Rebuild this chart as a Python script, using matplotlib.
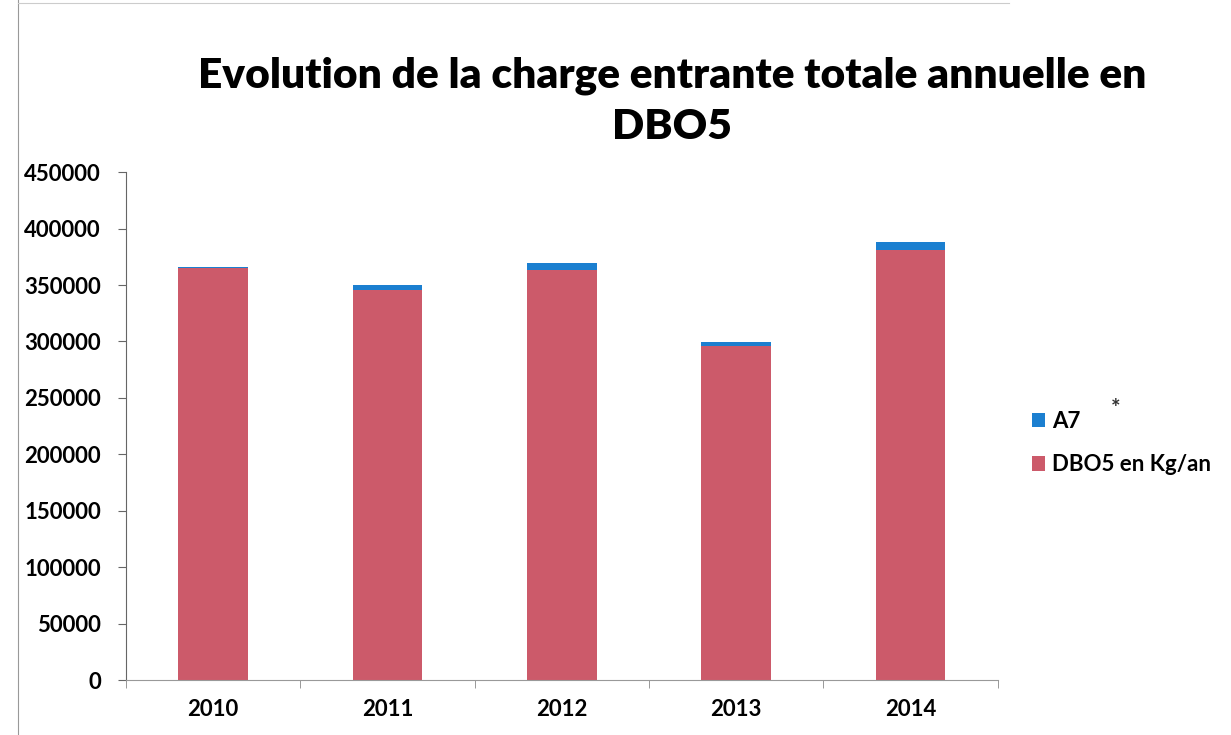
import matplotlib.pyplot as plt
import numpy as np

# Charge entrante annuelle en DBO5 (kg/an)
annees = ['2010', '2011', '2012', '2013', '2014']
dbo5 = [365000, 345500, 363200, 295900, 380900]
a7 = [1200, 4400, 6000, 3800, 6800]

rouge = '#CC5A6A'
bleu = '#1B7FD0'

plt.rcParams['font.family'] = ['Lato', 'DejaVu Sans']

fig = plt.figure(figsize=(12.31, 7.35), dpi=100)
ax = fig.add_axes([0.1024, 0.0748, 0.708, 0.691])

x = np.arange(len(annees))
b1 = ax.bar(x, dbo5, width=0.4, color=rouge, label='DBO5 en Kg/an')
b2 = ax.bar(x, a7, width=0.4, bottom=dbo5, color=bleu, label='A7')

ax.set_xlim(-0.5, len(annees) - 0.5)
ax.set_ylim(0, 450000)
ax.set_yticks(np.arange(0, 450001, 50000))
ax.set_yticklabels([str(v) for v in range(0, 450001, 50000)], fontsize=16, fontweight='bold')
ax.set_xticks(x)
ax.set_xticklabels(annees, fontsize=16, fontweight='bold')
ax.set_xticks(np.arange(-0.5, len(annees), 1), minor=True)
ax.tick_params(axis='x', which='major', length=0, pad=14)
ax.tick_params(axis='x', which='minor', length=6, color='#888888', direction='out')
ax.tick_params(axis='y', length=6, color='#666666', pad=12)

for s in ['top', 'right']:
    ax.spines[s].set_visible(False)
ax.spines['left'].set_color('#666666')
ax.spines['bottom'].set_color('#999999')

fig.text(0.546, 0.897, 'Evolution de la charge entrante totale annuelle en',
         ha='center', va='center', fontsize=30.5, fontweight='heavy')
fig.text(0.546, 0.827, 'DBO5', ha='center', va='center', fontsize=30.5, fontweight='heavy')

ax.legend([b2, b1], ['A7', 'DBO5 en Kg/an'], loc='center left',
          bbox_to_anchor=(0.822, 0.397), bbox_transform=fig.transFigure,
          frameon=False, handlelength=0.6, handleheight=0.6, handletextpad=0.3,
          labelspacing=1.0, prop={'weight': 'bold', 'size': 16})
fig.text(0.902, 0.435, '*', fontsize=16, fontweight='bold', color='#333333')

# cadre du document scanné
fig.add_artist(plt.Line2D([0.0146, 0.0146], [0, 1], color='#999999', lw=0.8))
fig.add_artist(plt.Line2D([0.0146, 0.82], [0.996, 0.996], color='#cccccc', lw=0.8))

plt.savefig('out.png', dpi=100)
